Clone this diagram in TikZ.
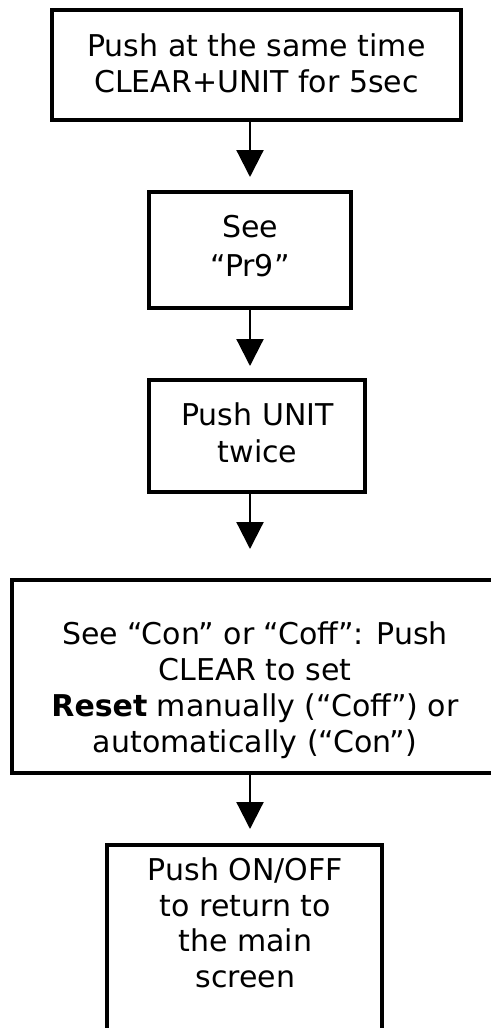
\documentclass[tikz,border=0pt]{standalone}
\usepackage{fontspec}
\setmainfont{DejaVu Sans}
\usetikzlibrary{arrows.meta,fit}
\begin{document}
\begin{tikzpicture}[x=1pt,y=-1pt,
  box/.style={draw=black,line width=3.2pt,rectangle,inner sep=0pt,outer sep=0pt},
  txt/.style={align=center,inner sep=0pt,font=\fontsize{30}{36}\selectfont},
  arr/.style={line width=2.2pt,-{Triangle[length=27pt,width=27pt]}}]
\useasboundingbox (0,0) rectangle (490,1028);
\fill[white] (0,0) rectangle (490,1028);
% boxes
\node[box,fit={(52,10) (461,120)}] (b1) {};
\node[box,fit={(149,192) (351,308)}] (b2) {};
\node[box,fit={(149,380) (365,492)}] (b3) {};
\node[box,fit={(12,580) (500,773)}] (b4) {};
\node[box,fit={(107,845) (382,1045)}] (b5) {};
% texts
\node[txt] (t1) at (256.5,63.6) {Push at the same time\\CLEAR+UNIT for 5sec};
\node[txt,font=\fontsize{30}{39}\selectfont] (t2) at (250,246.5) {See\\“Pr9”};
\node[txt,font=\fontsize{30}{37}\selectfont] (t3) at (257.5,433) {Push UNIT\\twice};
\node[txt] (t4) at (255,690.5) {See “Con” or “Coff”: Push\\CLEAR to set\\\textbf{Reset} manually (“Coff”) or\\automatically (“Con”)};
\node[txt,font=\fontsize{30}{35.5}\selectfont] (t5) at (245.5,923) {Push ON/OFF\\to return to\\the main\\screen};
% arrow tips
\coordinate (a1) at (250,177);
\coordinate (a2) at (250,366);
\coordinate (a3) at (250,549);
\coordinate (a4) at (250,829);
\draw[arr] (b1.south -| a1) -- (a1);
\draw[arr] (b2.south -| a2) -- (a2);
\draw[arr] (b3.south -| a3) -- (a3);
\draw[arr] (b4.south -| a4) -- (a4);
\end{tikzpicture}
\end{document}
